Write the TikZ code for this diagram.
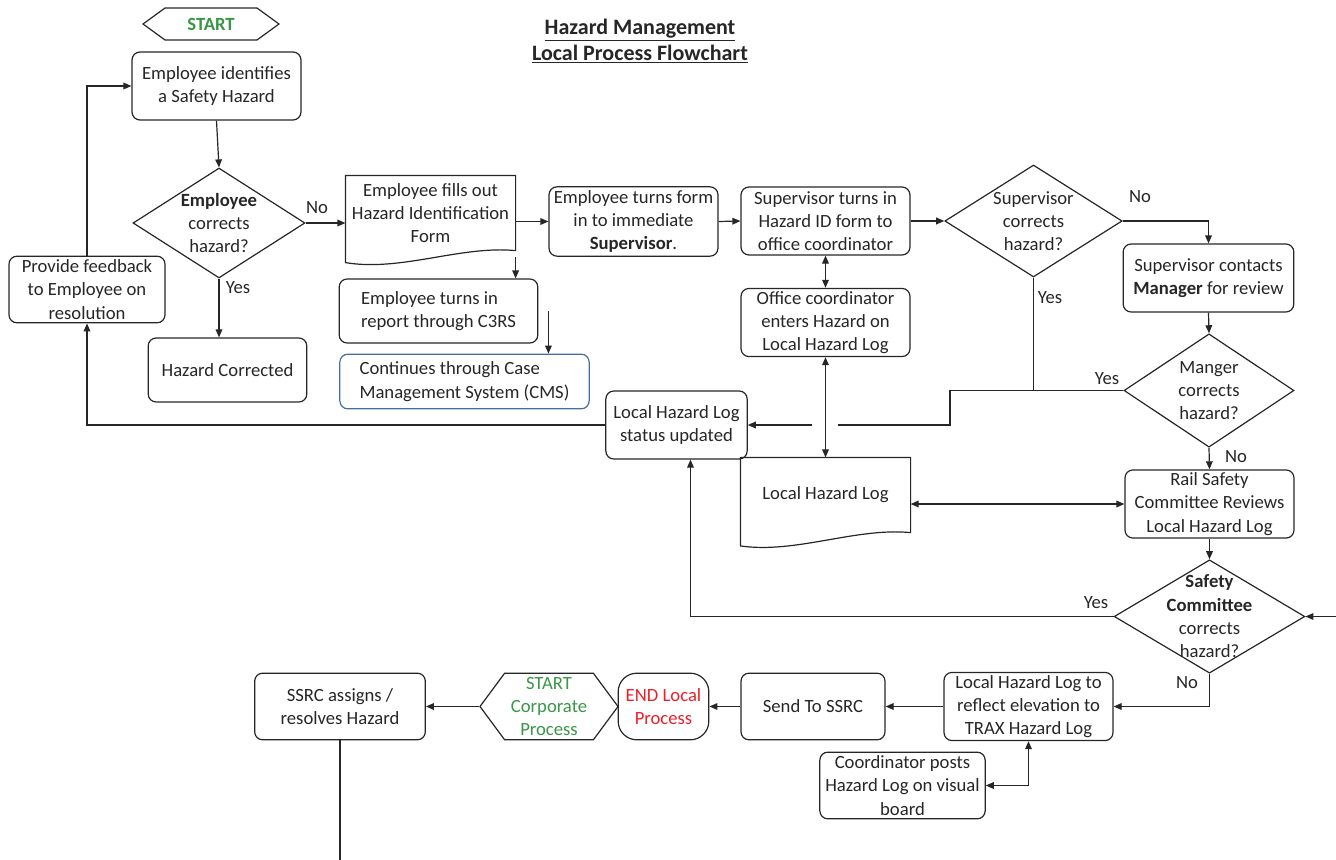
\documentclass[tikz,border=0pt]{standalone}
\usepackage{fontspec}
\setmainfont{Carlito}
\usetikzlibrary{shapes.geometric,shapes.symbols,arrows.meta}

\definecolor{startgreen}{RGB}{56,150,70}
\definecolor{endred}{RGB}{240,30,40}
\definecolor{cmsblue}{RGB}{70,110,165}

\begin{document}
\begin{tikzpicture}[x=0.75pt,y=-0.75pt,
  font=\fontsize{14}{17.5}\selectfont, color=black!85, line width=0.9pt,
  >={Triangle[length=6pt,width=5pt]},
  box/.style={draw,rounded corners=6pt,align=center,minimum width=126.75pt,minimum height=51pt,inner sep=2pt},
  decision/.style={draw,diamond,align=center,inner sep=-25pt},
  doc/.style={align=center,minimum width=126.75pt,minimum height=55.5pt,inner sep=2pt},
  hexa/.style={draw,signal,signal to=east and west,align=center,inner sep=1pt,text=startgreen},
  lbl/.style={inner sep=1pt}]

\useasboundingbox (0,0) rectangle (1336,860);

\coordinate (edgeR) at (1336,616.5);
\coordinate (edgeB) at (340,860);
\coordinate (bendB) at (950,425);
\coordinate (hopR) at (838,425);
\coordinate (hopL) at (812,425);

% titulo
\node[align=center,font=\fontsize{16.5}{19.5}\selectfont\bfseries] (title) at (640,41)
  {\underline{Hazard Management}\\\underline{Local Process Flowchart}};

% columna izquierda
\node[hexa,signal pointer angle=72,minimum width=102pt,minimum height=24pt,font=\fontsize{14}{17.5}\selectfont\bfseries] (start) at (211,24) {START};
\node[box] (ident) at (216.5,86) {Employee identifies\\a Safety Hazard};
\node[decision,minimum width=129pt,minimum height=82.5pt] (dEmp) at (219,223) {\textbf{Employee}\\corrects\\hazard?};
\node[box,minimum width=119pt,minimum height=48pt] (corrected) at (227.5,370) {Hazard Corrected};
\node[box,minimum width=117pt,minimum height=50pt] (feedback) at (87,289.5) {Provide feedback\\to Employee on\\resolution};

% formulario
\node[doc] (form) at (430.5,213) {Employee fills out\\Hazard Identification\\Form};
\draw (form.north west) -- (form.north east) -- (form.south east)
  .. controls ([shift={(-41pt,4pt)}]form.south east) and ([shift={(-86pt,-16pt)}]form.south east)
  .. ([yshift=-9pt]form.south west) -- cycle;
\node[box,minimum height=52pt] (turnSup) at (633.5,221.5) {Employee turns form\\in to immediate\\\textbf{Supervisor}.};
\node[box,align=left,minimum width=149pt,minimum height=48pt] (c3rs) at (438.5,311) {Employee turns in\\report through C3RS};
\node[box,draw=cmsblue,align=left,minimum width=187pt,minimum height=41pt] (cms) at (464.5,381.5) {Continues through Case\\Management System (CMS)};

% supervisor
\node[box] (supForm) at (825.5,221) {Supervisor turns in\\Hazard ID form to\\office coordinator};
\node[box,minimum height=50pt] (office) at (825.5,322.5) {Office coordinator\\enters Hazard on\\Local Hazard Log};
\node[decision,minimum width=133pt,minimum height=84pt] (dSup) at (1033.5,221) {Supervisor\\corrects\\hazard?};
\node[box,minimum width=128pt] (contact) at (1208.5,278) {Supervisor contacts\\\textbf{Manager} for review};
\node[decision,minimum width=127.5pt,minimum height=85pt] (dMgr) at (1209,390.5) {Manger\\corrects\\hazard?};

% log
\node[box,minimum width=106pt] (statusUpd) at (676.5,425) {Local Hazard Log\\status updated};
\node[doc] (log) at (825.5,495) {Local Hazard Log};
\draw (log.north west) -- (log.north east) -- (log.south east)
  .. controls ([shift={(-41pt,4pt)}]log.south east) and ([shift={(-86pt,-16pt)}]log.south east)
  .. ([yshift=-10pt]log.south west) -- cycle;
\node[box] (rsc) at (1209.5,504) {Rail Safety\\Committee Reviews\\Local Hazard Log};
\node[decision,minimum width=143pt,minimum height=85pt] (dSafety) at (1209.5,616.5) {\textbf{Safety}\\\textbf{Committee}\\corrects\\hazard?};

% fila de abajo
\node[box,minimum height=50pt] (reflect) at (1028.5,706.5) {Local Hazard Log to\\reflect elevation to\\TRAX Hazard Log};
\node[box,minimum width=108pt,minimum height=50pt] (ssrc) at (813,706.5) {Send To SSRC};
\node[draw,rounded corners=14pt,minimum width=68pt,minimum height=50pt,align=center,text=endred] (endLocal) at (663.5,706.5) {END Local\\Process};
\node[hexa,signal pointer angle=107,minimum width=103.5pt,minimum height=50pt] (startCorp) at (549,706.5) {START\\Corporate\\Process};
\node[box,minimum width=128pt,minimum height=50pt] (ssrcRes) at (340,706.5) {SSRC assigns /\\resolves Hazard};
\node[box,minimum width=124pt,minimum height=50pt] (posts) at (902.5,785.5) {Coordinator posts\\Hazard Log on visual\\board};

% flechas
\draw[->] (ident.south) -- (dEmp.north);
\draw[->] (dEmp.south) -- (dEmp.south |- corrected.north);
\draw[->] (dEmp.east) -- (dEmp.east -| form.west);
\draw[->] (form.east |- turnSup.west) -- (turnSup.west);
\draw[->] ([yshift=-5pt]form.south east) -- (form.east |- c3rs.north);
\draw[->] ([xshift=7.5pt]c3rs.east) -- ([xshift=7.5pt]c3rs.east |- cms.north);
\draw[->] (turnSup.east) -- (supForm.west);
\draw[<->] (supForm.south) -- (office.north);
\draw[->] (supForm.east) -- (dSup.west);
\draw[->] (dSup.east) -| (contact.north);
\draw (dSup.south) -- (dSup.south |- dMgr.west);
\draw[->] (contact.south) -- (dMgr.north);
\draw (dMgr.west) -| (bendB) -- (hopR);
\draw[->] (hopL) -- (statusUpd.east);
\draw[<->] (office.south) -- (log.north);
\draw[->] (dMgr.south) -- (rsc.north);
\draw[<->] (log.east |- rsc.west) -- (rsc.west);
\draw[->] (rsc.south) -- (dSafety.north);
\draw[->] (dSafety.west) -| ([xshift=10.5pt]statusUpd.south);
\draw[->] (edgeR) -- (dSafety.east);
\draw[->] (dSafety.south) |- (reflect.east);
\draw[->] (reflect.west) -- (ssrc.east);
\draw[->] (ssrc.west) -- (endLocal.east);
\draw[->] (startCorp.west) -- (ssrcRes.east);
\draw[<->] (posts.east) -| (reflect.south);
\draw[->] (statusUpd.west) -| (feedback.south);
\draw[->] (feedback.north) |- (ident.west);
\draw (ssrcRes.south) -- (edgeB);

% Yes / No
\node[lbl] (yesEmp) at (238,288) {Yes};
\node[lbl] (noEmp) at (317,208) {No};
\node[lbl] (noSup) at (1140,197) {No};
\node[lbl] (yesSup) at (1050,298) {Yes};
\node[lbl] (yesMgr) at (1107,379) {Yes};
\node[lbl] (noMgr) at (1236,457) {No};
\node[lbl] (yesSafety) at (1096,603) {Yes};
\node[lbl] (noSafety) at (1187,683) {No};
\end{tikzpicture}
\end{document}
